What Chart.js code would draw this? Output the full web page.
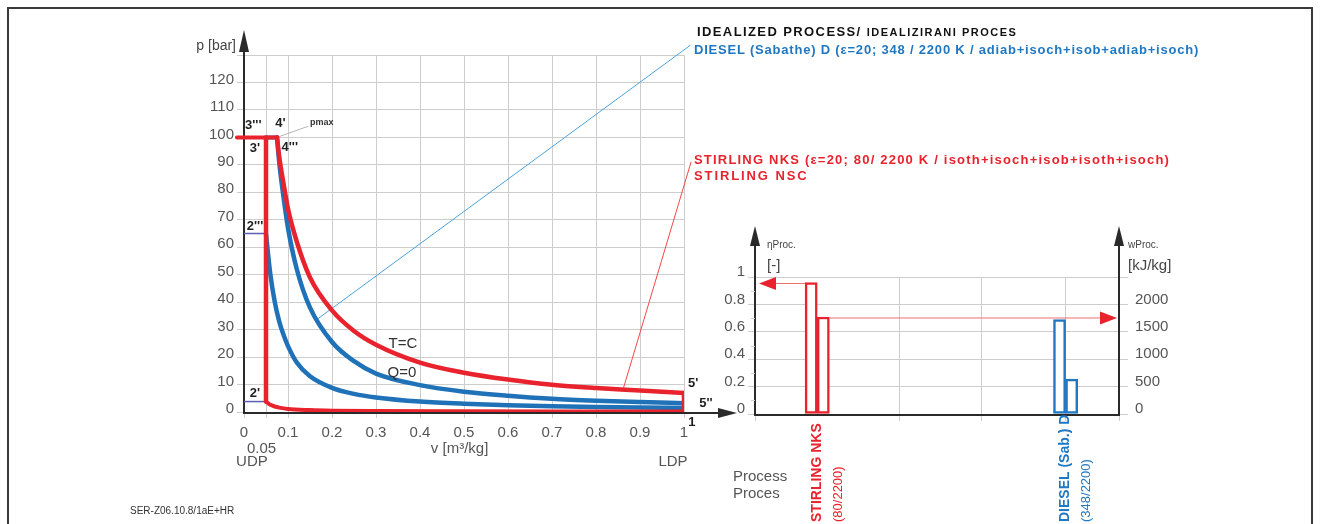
<!DOCTYPE html>
<html lang="en">
<head>
  <meta charset="UTF-8">
  <title>Idealized process</title>
  <style>
    body { margin: 0; background: #fff; font-family: "Liberation Sans", Arial, sans-serif; }
    .sheet { position: relative; width: 1320px; height: 524px; overflow: hidden; }
    .frame { position: absolute; left: 7px; top: 7px; width: 1306px; height: 540px; border: 2px solid #3a3a3a; box-sizing: border-box; }
    .box { position: absolute; top: 0; height: 524px; }
    .note { position: absolute; white-space: nowrap; font-weight: bold; font-size: 13px; line-height: 14px; }
  </style>
</head>
<body>
<div class="sheet">
  <div class="frame"></div>
  <div class="box" style="left:0;width:760px"><canvas id="pv-chart"></canvas></div>
  <div class="box" style="left:700px;width:620px"><canvas id="bar-chart"></canvas></div>

  <div class="note" style="left:697px;top:25px;color:#111;letter-spacing:1.4px">IDEALIZED PROCESS/ <span style="font-size:11px;letter-spacing:1.5px">IDEALIZIRANI PROCES</span></div>
  <div class="note" style="left:694px;top:43px;color:#1f78c1;letter-spacing:0.8px">DIESEL (Sabathe) D (ε=20; 348 / 2200 K / adiab+isoch+isob+adiab+isoch)</div>
  <div class="note" style="left:694px;top:153px;color:#e8232d;letter-spacing:1.2px">STIRLING NKS (ε=20; 80/ 2200 K / isoth+isoch+isob+isoth+isoch)</div>
  <div class="note" style="left:694px;top:169px;color:#e8232d;letter-spacing:1.9px">STIRLING NSC</div>
  <div class="note" style="left:733px;top:467px;font-weight:normal;font-size:15px;color:#555;line-height:17px">Process<br>Proces</div>
  <div class="note" style="left:130px;top:504px;font-weight:normal;font-size:10px;color:#333">SER-Z06.10.8/1aE+HR</div>

  <script src="https://cdn.jsdelivr.net/npm/chart.js@4.4.9/dist/chart.umd.min.js"></script>
  <script>
    // p-v diagram, v [m3/kg] / p [bar]
    const vTicks = [0, 0.05, 0.1, 0.2, 0.3, 0.4, 0.5, 0.6, 0.7, 0.8, 0.9, 1]
    const pTicks = [0, 10, 20, 30, 40, 50, 60, 70, 80, 90, 100, 110, 120, 130]

    const stirlingExpV = [0.075, 0.08, 0.09, 0.1, 0.12, 0.15, 0.2, 0.25, 0.3, 0.4, 0.5, 0.6, 0.7, 0.8, 0.9, 1]
    const stirlingExpP = [100, 93, 83, 74, 62, 49, 37, 29.5, 24.5, 18, 14.3, 11.8, 9.9, 8.7, 7.8, 6.9]
    const stirlingCompV = [0.05, 0.06, 0.07, 0.08, 0.1, 0.15, 0.2, 0.3, 0.5, 0.7, 1]
    const stirlingCompP = [3.8, 2.6, 2.0, 1.6, 1.1, 0.7, 0.5, 0.35, 0.25, 0.2, 0.2]

    const dieselExpV = [0.075, 0.08, 0.09, 0.1, 0.12, 0.15, 0.2, 0.25, 0.3, 0.4, 0.5, 0.6, 0.7, 0.8, 0.9, 1]
    const dieselExpP = [100, 91, 78, 67, 52, 38, 25.5, 18.5, 14, 9.8, 7.4, 5.9, 4.8, 4.1, 3.6, 3.2]
    const dieselCompV = [0.05, 0.055, 0.06, 0.07, 0.08, 0.09, 0.1, 0.12, 0.15, 0.2, 0.25, 0.3, 0.4, 0.5, 0.6, 0.7, 0.8, 0.9, 1]
    const dieselCompP = [65, 57, 50, 40, 33, 28, 24, 18, 13, 8.8, 6.6, 5.3, 3.8, 3.0, 2.5, 2.1, 1.8, 1.6, 1.5]

    const vMin = 0.05, vMax = 1, v4 = 0.075, pMax = 100
    const p2Stirling = 3.8, p2Diesel = 65

    // leader lines from curves to the legend texts
    const dieselLeader = [[0.164, 33.5], [1.014, 133.5]]
    const stirlingLeader = [[0.862, 8.5], [1.016, 91]]
    const pmaxLeader = [[0.075, 100], [0.145, 104]]

    const stateLabels = [
      ["3'''", 0.021, 104.5], ["4'", 0.083, 105], ["3'", 0.025, 96], ["4'''", 0.104, 96.3],
      ["2'''", 0.025, 67.5], ["2'", 0.025, 6.8], ["5'", 1.021, 10.5], ["5''", 1.05, 3.3], ["1", 1.018, -3.9]
    ]

    // efficiency / work bars
    const processes = ['STIRLING NKS', 'DIESEL (Sab.) D']
    const processTemps = ['(80/2200)', '(348/2200)']
    const processColors = ['#e8232d', '#1f78c1']
    const etaValues = [0.96, 0.69]
    const workValues = [1770, 635]
    const etaSlots = [4.63, 25.1]
    const workSlots = [5.63, 26.1]
    const slotTicks = [0, 11.9, 18.7, 25.6, 30]
    const etaTicks = [0, 0.1, 0.2, 0.3, 0.4, 0.5, 0.6, 0.7, 0.8, 0.9, 1]
    const workTicks = [0, 500, 1000, 1500, 2000, 2500]

    const RED = '#e8232d', BLUE = '#1f72b8', GRID = '#cdcdcd', FONT = '"Liberation Sans", Arial, sans-serif'

    const pts = (vs, ps) => vs.map((v, i) => ({x: v, y: ps[i]}))
    const pairs = arr => arr.map(([x, y]) => ({x, y}))
    const line = (data, color, width, extra) => Object.assign({
      data, borderColor: color, borderWidth: width, pointRadius: 0, showLine: true, fill: false,
      borderCapStyle: 'round', borderJoinStyle: 'round'
    }, extra || {})

    function tri(ctx, a, b, c) {
      ctx.beginPath(); ctx.moveTo(a[0], a[1]); ctx.lineTo(b[0], b[1]); ctx.lineTo(c[0], c[1]); ctx.closePath(); ctx.fill()
    }

    const pvDecor = {
      id: 'pvDecor',
      beforeDatasetsDraw(chart) {
        const {ctx, chartArea: a} = chart
        ctx.save()
        ctx.strokeStyle = '#2a2a2a'; ctx.fillStyle = '#2a2a2a'; ctx.lineWidth = 2
        ctx.beginPath()
        ctx.moveTo(a.left, a.bottom + 2); ctx.lineTo(a.left, 46)
        ctx.moveTo(a.left - 1, a.bottom + 1); ctx.lineTo(722, a.bottom + 1)
        ctx.stroke()
        tri(ctx, [a.left, 30], [a.left - 5, 52], [a.left + 5, 52])
        tri(ctx, [737, a.bottom + 1], [718, a.bottom - 4], [718, a.bottom + 6])
        ctx.restore()
      },
      afterDraw(chart) {
        const {ctx, chartArea: a, scales: {x, y}} = chart
        ctx.save()
        ctx.textAlign = 'center'; ctx.textBaseline = 'middle'
        ctx.fillStyle = '#1e1e1e'; ctx.font = 'bold 13px ' + FONT
        stateLabels.forEach(([t, v, p]) => ctx.fillText(t, x.getPixelForValue(v), y.getPixelForValue(p)))
        ctx.font = '15px ' + FONT; ctx.fillStyle = '#333'
        ctx.fillText('T=C', x.getPixelForValue(0.361), y.getPixelForValue(24.8))
        ctx.fillText('Q=0', x.getPixelForValue(0.359), y.getPixelForValue(14.2))
        ctx.font = 'bold 9px ' + FONT; ctx.textAlign = 'left'
        ctx.fillText('pmax', x.getPixelForValue(0.15), y.getPixelForValue(105.5))
        ctx.font = '14px ' + FONT; ctx.fillStyle = '#444'; ctx.textAlign = 'right'
        ctx.fillText('p [bar]', a.left - 8, 46)
        ctx.textAlign = 'center'; ctx.font = '15px ' + FONT; ctx.fillStyle = '#555'
        ctx.fillText('0.05', x.getPixelForValue(0.04), a.bottom + 37)
        ctx.fillText('UDP', x.getPixelForValue(0.018), a.bottom + 50)
        ctx.fillText('LDP', x.getPixelForValue(0.975), a.bottom + 50)
        ctx.fillText('v [m³/kg]', x.getPixelForValue(0.49), a.bottom + 37)
        ctx.restore()
      }
    }

    new Chart(document.getElementById('pv-chart'), {
      type: 'scatter',
      data: {
        datasets: [
          line(pts(stirlingExpV, stirlingExpP), RED, 4.5, {cubicInterpolationMode: 'monotone'}),
          line(pts(stirlingCompV, stirlingCompP), RED, 4, {cubicInterpolationMode: 'monotone'}),
          line([{x: vMin, y: p2Stirling}, {x: vMin, y: pMax}], RED, 4.5),
          line([{x: -0.016, y: pMax}, {x: v4, y: pMax}], RED, 4, {clip: false}),
          line([{x: vMax, y: stirlingCompP[stirlingCompP.length - 1]}, {x: vMax, y: stirlingExpP[stirlingExpP.length - 1]}], RED, 4.5),
          line(pts(dieselExpV, dieselExpP), BLUE, 4.5, {cubicInterpolationMode: 'monotone'}),
          line(pts(dieselCompV, dieselCompP), BLUE, 4.5, {cubicInterpolationMode: 'monotone'}),
          line([{x: vMin, y: p2Diesel}, {x: vMin, y: pMax}, {x: v4, y: pMax}], BLUE, 4),
          line([{x: vMax, y: dieselCompP[dieselCompP.length - 1]}, {x: vMax, y: dieselExpP[dieselExpP.length - 1]}], BLUE, 4),
          line([{x: 0, y: p2Diesel}, {x: vMin, y: p2Diesel}], '#5b5fb0', 1.5, {borderCapStyle: 'butt'}),
          line([{x: 0, y: p2Stirling}, {x: vMin, y: p2Stirling}], '#5b5fb0', 1.5, {borderCapStyle: 'butt'}),
          line(pairs(dieselLeader), '#4aa2da', 1, {clip: false}),
          line(pairs(stirlingLeader), '#f04848', 1, {clip: false}),
          line(pairs(pmaxLeader), '#b5b5b5', 1, {clip: false})
        ]
      },
      options: {
        responsive: true,
        maintainAspectRatio: false,
        animation: false,
        layout: {padding: {top: 55, right: 76, left: 0, bottom: 0}},
        plugins: {legend: {display: false}, tooltip: {enabled: false}},
        scales: {
          x: {
            type: 'linear', min: 0, max: 1,
            afterBuildTicks: s => { s.ticks = vTicks.map(value => ({value})) },
            afterFit: s => { s.height = 112 },
            ticks: {
              callback: v => v === 0.05 ? '' : String(v),
              font: {size: 15, family: FONT}, color: '#555', padding: 6, maxRotation: 0, autoSkip: false
            },
            grid: {color: GRID, tickLength: 6},
            border: {display: false}
          },
          y: {
            min: 0, max: 130,
            afterBuildTicks: s => { s.ticks = pTicks.map(value => ({value})) },
            afterFit: s => { s.width = 244 },
            ticks: {
              callback: v => v > 120 ? '' : String(v),
              font: {size: 15, family: FONT}, color: '#555', padding: 3, labelOffset: -3, autoSkip: false
            },
            grid: {color: GRID, tickLength: 7},
            border: {display: false}
          }
        }
      },
      plugins: [pvDecor]
    })

    const barDecor = {
      id: 'barDecor',
      beforeDatasetsDraw(chart) {
        const {ctx, chartArea: a, scales: {y}} = chart
        ctx.save()
        ctx.strokeStyle = '#2a2a2a'; ctx.fillStyle = '#2a2a2a'; ctx.lineWidth = 2
        ctx.beginPath()
        ctx.moveTo(a.left, a.bottom + 1); ctx.lineTo(a.left, 240)
        ctx.moveTo(a.right, a.bottom + 1); ctx.lineTo(a.right, 240)
        ctx.moveTo(a.left - 1, a.bottom + 1); ctx.lineTo(a.right + 1, a.bottom + 1)
        ctx.stroke()
        tri(ctx, [a.left, 226], [a.left - 5, 246], [a.left + 5, 246])
        tri(ctx, [a.right, 226], [a.right - 5, 246], [a.right + 5, 246])
        // minor ticks of the efficiency axis
        ctx.strokeStyle = GRID; ctx.lineWidth = 1
        etaTicks.forEach(t => {
          if (Math.round(t * 10) % 2) {
            const py = Math.round(y.getPixelForValue(t)) + 0.5
            ctx.beginPath(); ctx.moveTo(a.left - 4, py); ctx.lineTo(a.left, py); ctx.stroke()
          }
        })
        ctx.restore()
      },
      afterDraw(chart) {
        const {ctx, chartArea: a, scales: {x}} = chart
        const eta = chart.getDatasetMeta(0).data[0]
        const work = chart.getDatasetMeta(1).data[0]
        ctx.save()
        // arrows from the Stirling bars to their axes
        ctx.strokeStyle = '#f07070'; ctx.fillStyle = RED; ctx.lineWidth = 1.2
        const ey = eta.y + 1, wy = work.y + 1
        ctx.beginPath()
        ctx.moveTo(eta.x - eta.width / 2, ey); ctx.lineTo(a.left + 20, ey)
        ctx.moveTo(work.x + work.width / 2, wy); ctx.lineTo(a.right - 18, wy)
        ctx.stroke()
        tri(ctx, [a.left + 4, ey], [a.left + 21, ey - 6.5], [a.left + 21, ey + 6.5])
        tri(ctx, [a.right - 2, wy], [a.right - 19, wy - 6.5], [a.right - 19, wy + 6.5])
        // axis captions
        ctx.fillStyle = '#444'; ctx.textBaseline = 'middle'; ctx.textAlign = 'left'
        ctx.font = '10px ' + FONT
        ctx.fillText('ηProc.', a.left + 12, 245)
        ctx.fillText('wProc.', a.right + 9, 245)
        ctx.font = '15px ' + FONT
        ctx.fillText('[-]', a.left + 12, 266)
        ctx.fillText('[kJ/kg]', a.right + 9, 266)
        // process names, written upwards under the bars
        processes.forEach((name, i) => {
          const px = x.getPixelForValue((etaSlots[i] + workSlots[i]) / 2)
          ctx.fillStyle = processColors[i]
          ctx.save(); ctx.translate(px, 522); ctx.rotate(-Math.PI / 2)
          ctx.font = 'bold 14px ' + FONT; ctx.fillText(name, 0, 0)
          ctx.restore()
          ctx.save(); ctx.translate(px + 21, 522); ctx.rotate(-Math.PI / 2)
          ctx.font = '13px ' + FONT; ctx.fillText(processTemps[i], 0, 0)
          ctx.restore()
        })
        ctx.restore()
      }
    }

    const barSet = (slots, values, axis) => ({
      data: slots.map((s, i) => ({x: s, y: values[i]})),
      yAxisID: axis,
      borderColor: processColors,
      backgroundColor: '#ffffff',
      borderWidth: 2.5,
      borderSkipped: false,
      grouped: false,
      barPercentage: 1,
      categoryPercentage: 1
    })

    new Chart(document.getElementById('bar-chart'), {
      type: 'bar',
      data: {datasets: [barSet(etaSlots, etaValues, 'y'), barSet(workSlots, workValues, 'y1')]},
      options: {
        responsive: true,
        maintainAspectRatio: false,
        animation: false,
        layout: {padding: {top: 277, left: 0, right: 0, bottom: 0}},
        plugins: {legend: {display: false}, tooltip: {enabled: false}},
        scales: {
          x: {
            type: 'linear', min: 0, max: 30, offset: false,
            afterBuildTicks: s => { s.ticks = slotTicks.map(value => ({value})) },
            afterFit: s => { s.height = 110 },
            ticks: {callback: () => ''},
            grid: {offset: false, color: GRID, tickLength: 7},
            border: {display: false}
          },
          y: {
            position: 'left', min: 0, max: 1,
            afterBuildTicks: s => { s.ticks = etaTicks.map(value => ({value})) },
            afterFit: s => { s.width = 55 },
            ticks: {
              callback: v => Math.round(v * 10) % 2 ? '' : String(v),
              font: {size: 15, family: FONT}, color: '#555', padding: 3, labelOffset: -5, autoSkip: false
            },
            grid: {
              color: c => Math.round(c.tick.value * 10) % 2 ? 'rgba(0,0,0,0)' : GRID,
              tickColor: c => Math.round(c.tick.value * 10) % 2 ? 'rgba(0,0,0,0)' : GRID,
              tickLength: 7
            },
            border: {display: false}
          },
          y1: {
            position: 'right', min: 0, max: 2500,
            afterBuildTicks: s => { s.ticks = workTicks.map(value => ({value})) },
            afterFit: s => { s.width = 201 },
            ticks: {
              callback: v => v > 2000 ? '' : String(v),
              font: {size: 15, family: FONT}, color: '#555', padding: 7, labelOffset: -5, autoSkip: false
            },
            grid: {drawOnChartArea: false, color: GRID, tickLength: 9},
            border: {display: false}
          }
        }
      },
      plugins: [barDecor]
    })
  </script>
</div>
</body>
</html>
